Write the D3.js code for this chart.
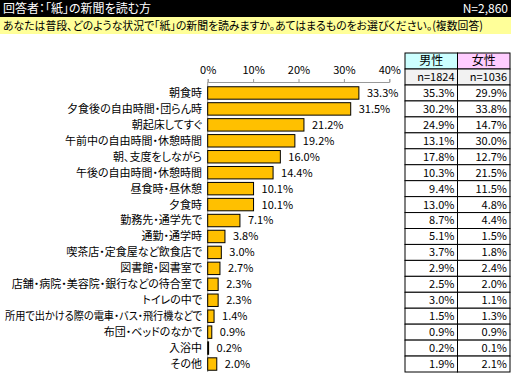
<!DOCTYPE html>
<html>
<head>
<meta charset="utf-8">
<script src="https://cdn.jsdelivr.net/npm/d3@7"></script>
<style>
  body { margin: 0; background: #fff; }
  svg text { font-family: "Noto Sans CJK JP", "Liberation Sans", sans-serif; font-feature-settings: "palt"; }
</style>
</head>
<body>
<div id="chart"></div>
<script>
var categories = [
  '朝食時', '夕食後の自由時間・団らん時', '朝起床してすぐ', '午前中の自由時間・休憩時間',
  '朝、支度をしながら', '午後の自由時間・休憩時間', '昼食時・昼休憩', '夕食時',
  '勤務先・通学先で', '通勤・通学時', '喫茶店・定食屋など飲食店で', '図書館・図書室で',
  '店舗・病院・美容院・銀行などの待合室で', 'トイレの中で',
  '所用で出かける際の電車・バス・飛行機などで', '布団・ベッドのなかで', '入浴中', 'その他'
];
var totalValues = [33.3, 31.5, 21.2, 19.2, 16.0, 14.4, 10.1, 10.1, 7.1, 3.8, 3.0, 2.7, 2.3, 2.3, 1.4, 0.9, 0.2, 2.0];
var maleValues = [35.3, 30.2, 24.9, 13.1, 17.8, 10.3, 9.4, 13.0, 8.7, 5.1, 3.7, 2.9, 2.5, 3.0, 1.5, 0.9, 0.2, 1.9];
var femaleValues = [29.9, 33.8, 14.7, 30.0, 12.7, 21.5, 11.5, 4.8, 4.4, 1.5, 1.8, 2.4, 2.0, 1.1, 1.3, 0.9, 0.1, 2.1];
var xTicks = [0, 10, 20, 30, 40];
var groups = ['男性', '女性'];
var groupN = ['n=1824', 'n=1036'];
var titleText = '回答者：「紙」の新聞を読む方';
var totalN = 'N=2,860';
var questionText = 'あなたは普段、どのような状況で「紙」の新聞を読みますか。あてはまるものをお選びください。(複数回答)';

var width = 511, height = 373;

var svg = d3.select('#chart').append('svg')
  .attr('width', width)
  .attr('height', height);

// squeeze a text into maxW if it runs wider
function fit(sel, maxW) {
  sel.each(function() {
    if (this.getComputedTextLength() > maxW) {
      d3.select(this).attr('textLength', maxW).attr('lengthAdjust', 'spacingAndGlyphs');
    }
  });
}

// header bars
svg.append('rect').attr('x', 0).attr('y', 0).attr('width', width).attr('height', 17).attr('fill', '#000');
svg.append('text').attr('x', 3).attr('y', 8.5).attr('dy', '0.36em').attr('fill', '#fff')
  .style('font-size', '12px').text(titleText).call(fit, 150);
svg.append('text').attr('x', 508).attr('y', 8.5).attr('dy', '0.36em').attr('fill', '#fff').attr('text-anchor', 'end')
  .style('font-size', '12px').text(totalN);
svg.append('rect').attr('x', 0).attr('y', 17).attr('width', width).attr('height', 17).attr('fill', '#ffff99');
svg.append('text').attr('x', 3).attr('y', 25.5).attr('dy', '0.36em').attr('fill', '#000')
  .style('font-size', '11.5px').text(questionText).call(fit, 480);

var x = d3.scaleLinear().domain([0, 40]).range([207.7, 389.3]);
var y = d3.scaleBand().domain(categories).range([85, 372]).paddingInner(0.22).paddingOuter(0.11);
var rowY = d3.scaleBand().domain(categories).range([85, 372]);

// axis
var axis = svg.append('g')
  .attr('transform', 'translate(0,82)')
  .call(d3.axisTop(x).tickValues(xTicks).tickSize(3).tickPadding(5).tickFormat(function(d) { return d + '%'; }));
axis.select('.domain').attr('stroke', '#999');
axis.selectAll('.tick line').attr('stroke', '#999');
axis.selectAll('text').style('font-size', '11px').attr('fill', '#000');

svg.append('line')
  .attr('x1', x(0)).attr('x2', x(0))
  .attr('y1', 82).attr('y2', 372)
  .attr('stroke', '#999');

// category labels
svg.selectAll('.cat')
  .data(categories)
  .enter()
  .append('text')
  .attr('class', 'cat')
  .attr('x', 202)
  .attr('y', function(d) { return rowY(d) + rowY.bandwidth() / 2; })
  .attr('dy', '0.36em')
  .attr('text-anchor', 'end')
  .style('font-size', '11px')
  .attr('fill', '#000')
  .text(function(d) { return d; })
  .call(fit, 197);

// bars
svg.selectAll('.bar')
  .data(totalValues)
  .enter()
  .append('rect')
  .attr('class', 'bar')
  .attr('x', x(0))
  .attr('y', function(d, i) { return y(categories[i]); })
  .attr('width', function(d) { return x(d) - x(0); })
  .attr('height', y.bandwidth())
  .attr('fill', '#ffc000')
  .attr('stroke', '#000')
  .attr('stroke-width', 1);

svg.selectAll('.val')
  .data(totalValues)
  .enter()
  .append('text')
  .attr('class', 'val')
  .attr('x', function(d) { return x(d) + 8; })
  .attr('y', function(d, i) { return rowY(categories[i]) + rowY.bandwidth() / 2; })
  .attr('dy', '0.36em')
  .style('font-size', '11px')
  .attr('fill', '#000')
  .text(function(d) { return d.toFixed(1) + '%'; });

// table on the right
var colX = d3.scaleBand().domain(groups).range([405, 510]);
var headFill = ['#ccffff', '#ffccff'];
var table = svg.append('g');

groups.forEach(function(g, gi) {
  var cx = colX(g), cw = colX.bandwidth();
  table.append('rect').attr('x', cx).attr('y', 53).attr('width', cw).attr('height', 16)
    .attr('fill', headFill[gi]).attr('stroke', '#000');
  table.append('text').attr('x', cx + cw / 2).attr('y', 61).attr('dy', '0.36em')
    .attr('text-anchor', 'middle').style('font-size', '12px').text(g);
  table.append('rect').attr('x', cx).attr('y', 69).attr('width', cw).attr('height', 16)
    .attr('fill', '#f2f2f2').attr('stroke', '#000');
  table.append('text').attr('x', cx + cw - 3).attr('y', 77).attr('dy', '0.36em')
    .attr('text-anchor', 'end').style('font-size', '11px').text(groupN[gi]);

  var vals = gi === 0 ? maleValues : femaleValues;
  table.selectAll('.cell' + gi)
    .data(vals)
    .enter()
    .append('rect')
    .attr('x', cx)
    .attr('y', function(d, i) { return rowY(categories[i]); })
    .attr('width', cw)
    .attr('height', rowY.bandwidth())
    .attr('fill', '#fff')
    .attr('stroke', '#000');
  table.selectAll('.ctext' + gi)
    .data(vals)
    .enter()
    .append('text')
    .attr('x', cx + cw - 3)
    .attr('y', function(d, i) { return rowY(categories[i]) + rowY.bandwidth() / 2; })
    .attr('dy', '0.36em')
    .attr('text-anchor', 'end')
    .style('font-size', '11px')
    .text(function(d) { return d.toFixed(1) + '%'; });
});
</script>
</body>
</html>
